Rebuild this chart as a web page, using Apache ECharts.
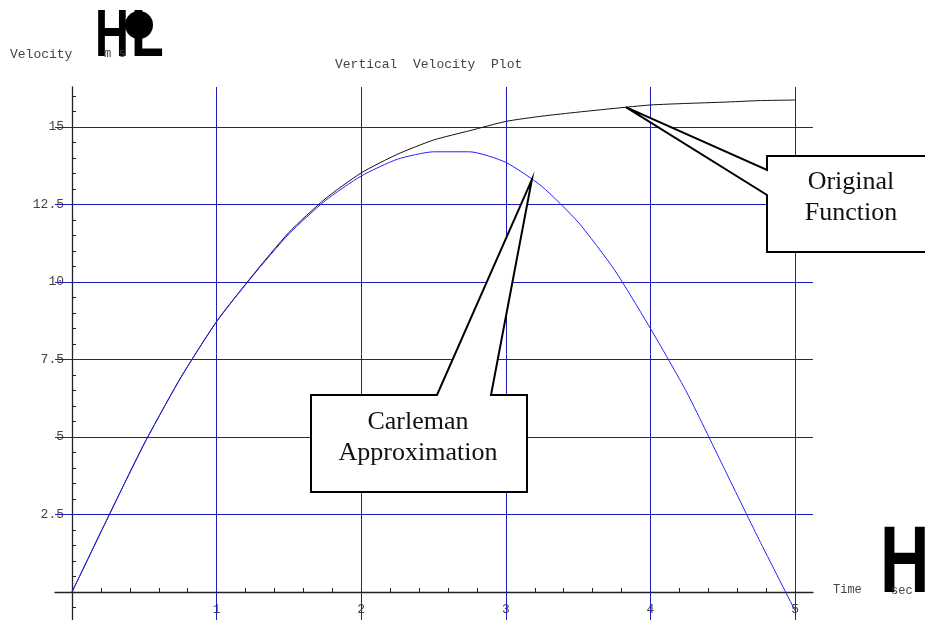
<!DOCTYPE html>
<html>
<head>
<meta charset="utf-8">
<script src="https://cdn.jsdelivr.net/npm/echarts@6/dist/echarts.min.js"></script>
<style>
  html, body { margin: 0; padding: 0; background: #fff; }
  #main { width: 925px; height: 620px; }
</style>
</head>
<body>
<div id="main"></div>
<script>
// Sample times (s)
const timeSec = [0, 0.25, 0.5, 0.75, 1, 1.25, 1.5, 1.75, 2, 2.25, 2.5, 2.75, 3,
                 3.25, 3.5, 3.75, 4, 4.25, 4.5, 4.75, 5];
// Exact vertical velocity (m/s)
const originalVel = [0, 2.42, 4.79, 6.9, 8.73, 10.22, 11.6, 12.68, 13.52, 14.12, 14.58, 14.88, 15.18,
                     15.35, 15.48, 15.6, 15.71, 15.76, 15.8, 15.85, 15.87];
// Carleman linearisation of the same model (m/s)
const carlemanVel = [0, 2.42, 4.79, 6.9, 8.72, 10.2, 11.55, 12.62, 13.42, 13.96, 14.2, 14.2, 13.86,
                     13.08, 11.93, 10.4, 8.5, 6.45, 4.08, 1.7, -0.6];

// Axis labels / grid positions
const xMajor = [1, 2, 3, 4, 5];
const yMajor = [2.5, 5, 7.5, 10, 12.5, 15];

// Callout anchors on the curves
const originalTip = [3.83, 15.64];
const carlemanTip = [3.18, 13.3];

// Minor tick positions: every 0.2 s on time, every 0.5 m/s on velocity
const xMinor = [];
for (let i = 1; i <= 25; i++) { if (i % 5 !== 0) xMinor.push(+(i * 0.2).toFixed(2)); }
const yMinor = [-0.5];
for (let i = 1; i <= 32; i++) { if (i % 5 !== 0) yMinor.push(+(i * 0.5).toFixed(2)); }

const mono = '"Liberation Mono", "DejaVu Sans Mono", monospace';
const serif = '"Liberation Serif", "DejaVu Serif", serif';
const sansBold = 'bold {s}px "Liberation Sans", Arial, sans-serif';
const gridColor = '#1c1cb8';
const axisColor = '#222';

const GRID = { left: 55, right: 112, top: 87, bottom: 0 };
const W = 925, H = 620;

const chart = echarts.init(document.getElementById('main'), null, { renderer: 'canvas' });

const gridMarks = xMajor.map(v => ({ xAxis: v })).concat(yMajor.map(v => ({ yAxis: v })));

chart.setOption({
  animation: false,
  backgroundColor: '#fff',
  title: {
    text: 'Vertical  Velocity  Plot',
    left: 335,
    top: 58,
    padding: 0,
    textStyle: { fontFamily: mono, fontSize: 13, fontWeight: 'normal', color: '#444' }
  },
  grid: Object.assign({ containLabel: false, outerBoundsMode: 'none' }, GRID),
  xAxis: {
    type: 'value',
    position: 'bottom',
    min: -0.1176,
    max: 5.124,
    axisLine: { show: true, onZero: false, lineStyle: { color: axisColor, width: 1.3 } },
    axisTick: { show: true, inside: true, length: 4, customValues: xMinor,
                lineStyle: { color: axisColor, width: 1 } },
    axisLabel: { show: true, customValues: xMajor, margin: 11,
                 fontFamily: mono, fontSize: 13, color: '#444' },
    splitLine: { show: false }
  },
  yAxis: {
    type: 'value',
    position: 'left',
    min: -0.903,
    max: 16.29,
    axisLine: { show: true, onZero: false, lineStyle: { color: axisColor, width: 1.3 } },
    axisTick: { show: true, inside: true, length: 4, customValues: yMinor,
                lineStyle: { color: axisColor, width: 1 } },
    axisLabel: { show: true, customValues: yMajor, margin: 8,
                 fontFamily: mono, fontSize: 13, color: '#444' },
    splitLine: { show: false }
  },
  series: [
    {
      name: 'Original Function',
      type: 'line',
      data: timeSec.map((t, i) => [t, originalVel[i]]),
      showSymbol: false,
      smooth: 0.2,
      lineStyle: { color: '#111', width: 1 },
      z: 3,
      markLine: {
        silent: true,
        z: 1,
        symbol: ['none', 'none'],
        label: { show: false },
        lineStyle: { type: 'solid', color: gridColor, width: 1 },
        emphasis: { disabled: true },
        data: gridMarks
      }
    },
    {
      name: 'Carleman Approximation',
      type: 'line',
      data: timeSec.map((t, i) => [t, carlemanVel[i]]),
      showSymbol: false,
      smooth: 0.2,
      lineStyle: { color: '#2323ff', width: 1 },
      z: 3
    }
  ]
});

// Move both axes onto the origin (x = 0, y = 0) so that lines, ticks and labels cross there
const origin = chart.convertToPixel({ gridIndex: 0 }, [0, 0]);
chart.setOption({
  xAxis: { offset: -((H - GRID.bottom) - origin[1]) },
  yAxis: { offset: -(origin[0] - GRID.left) }
});

const pOrig = chart.convertToPixel({ gridIndex: 0 }, originalTip);
const pCarl = chart.convertToPixel({ gridIndex: 0 }, carlemanTip);

const boxStyle = { fill: '#fff', stroke: '#000', lineWidth: 2 };
const calloutText = (text, x, y) => ({
  type: 'text', z: 21,
  style: { text, x, y, textAlign: 'center', textVerticalAlign: 'middle',
           font: '26px ' + serif, fill: '#111' }
});

chart.setOption({
  graphic: [
    // axis captions
    { type: 'text', style: { text: 'Velocity', x: 10, y: 55, textVerticalAlign: 'middle',
        font: '13px ' + mono, fill: '#444' } },
    { type: 'text', x: 95, y: 38, scaleX: 0.7,
      style: { text: 'H', x: 0, y: 0, textVerticalAlign: 'middle',
        font: sansBold.replace('{s}', 67), fill: '#000' } },
    { type: 'circle', shape: { cx: 139, cy: 25, r: 14 }, style: { fill: '#000' } },
    { type: 'text', x: 131, y: 38, scaleX: 0.8,
      style: { text: 'L', x: 0, y: 0, textVerticalAlign: 'middle',
        font: sansBold.replace('{s}', 67), fill: '#000' } },
    { type: 'text', style: { text: 'm s', x: 104, y: 54, textVerticalAlign: 'middle',
        font: '12px ' + mono, fill: '#444' } },

    { type: 'text', style: { text: 'Time', x: 833, y: 590, textVerticalAlign: 'middle',
        font: '12px ' + mono, fill: '#444' } },
    { type: 'text', x: 880, y: 566, scaleX: 0.72,
      style: { text: 'H', x: 0, y: 0, textVerticalAlign: 'middle',
        font: sansBold.replace('{s}', 95), fill: '#000' } },
    { type: 'text', style: { text: 'sec', x: 891, y: 591, textVerticalAlign: 'middle',
        font: '12px ' + mono, fill: '#444' } },

    // callout: Original Function
    { type: 'polygon', z: 20,
      shape: { points: [[767, 156], [935, 156], [935, 252], [767, 252], [767, 195], pOrig, [767, 170]] },
      style: boxStyle },
    calloutText('Original', 851, 182),
    calloutText('Function', 851, 213),

    // callout: Carleman Approximation
    { type: 'polygon', z: 20,
      shape: { points: [[311, 395], [437, 395], pCarl, [491, 395], [527, 395], [527, 492], [311, 492]] },
      style: boxStyle },
    calloutText('Carleman', 418, 422),
    calloutText('Approximation', 418, 453)
  ]
});
</script>
</body>
</html>
